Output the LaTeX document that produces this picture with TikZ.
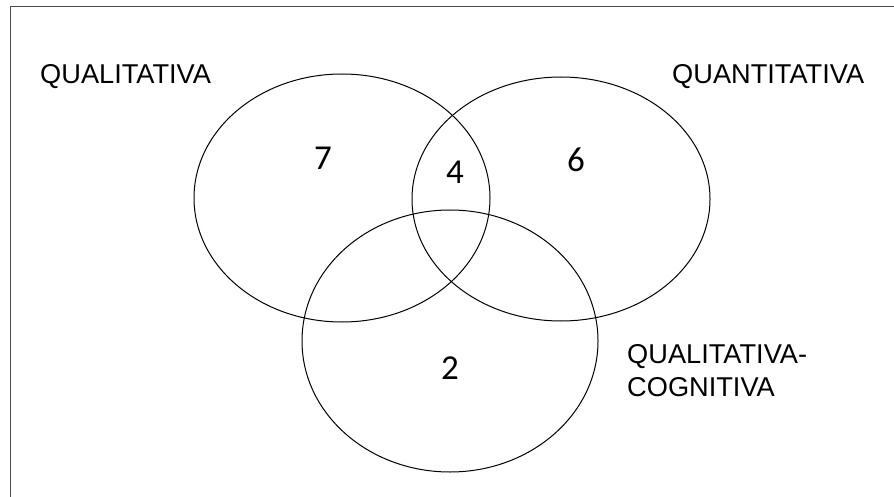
\documentclass[tikz,border=0pt]{standalone}
\usepackage{fontspec}
\setmainfont{Liberation Sans}
\newfontfamily\numfont{Carlito}
\tikzset{
  set/.style={line width=1pt, black},
  lab/.style={font=\fontsize{27.2}{33}\selectfont, inner sep=0pt, align=left},
  num/.style={font=\numfont\fontsize{35}{42}\selectfont, inner sep=0pt}
}
\begin{document}
\begin{tikzpicture}[x=1pt,y=-1pt]
\useasboundingbox (0,0) rectangle (894,497);
\draw[line width=1pt, black!70] (10,497) -- (10,7) -- (894,7);
\draw[set] (342,198) ellipse (148 and 124);
\draw[set] (561,199) ellipse (149 and 122);
\draw[set] (450,341) ellipse (148 and 131);
\node[lab, anchor=base west] (qual) at (40,84) {QUALITATIVA};
\node[lab, anchor=base west] (quan) at (672,84) {QUANTITATIVA};
\node[lab, anchor=north west] (cogn) at (627,344) {QUALITATIVA-\\COGNITIVA};
\node[num] (n7) at (323,158) {7};
\node[num] (n4) at (455,172) {4};
\node[num] (n6) at (576,160) {6};
\node[num] (n2) at (450,368) {2};
\end{tikzpicture}
\end{document}
